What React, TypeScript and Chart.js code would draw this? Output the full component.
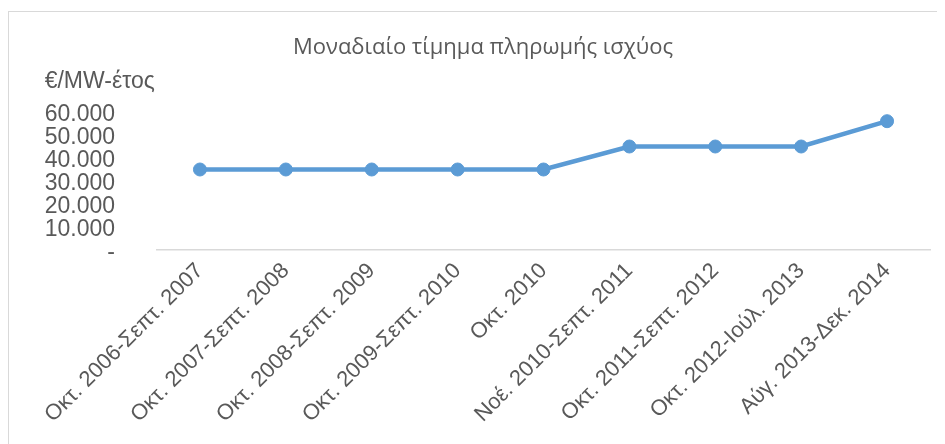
import React, { useEffect, useRef } from "react";
import { Chart, registerables } from "chart.js";

Chart.register(...registerables);

const categories: string[] = [
  "Οκτ. 2006-Σεπτ. 2007",
  "Οκτ. 2007-Σεπτ. 2008",
  "Οκτ. 2008-Σεπτ. 2009",
  "Οκτ. 2009-Σεπτ. 2010",
  "Οκτ. 2010",
  "Νοέ. 2010-Σεπτ. 2011",
  "Οκτ. 2011-Σεπτ. 2012",
  "Οκτ. 2012-Ιούλ. 2013",
  "Αύγ. 2013-Δεκ. 2014",
];
const values: number[] = [35000, 35000, 35000, 35000, 35000, 45000, 45000, 45000, 56000];
const chartTitle = "Μοναδιαίο τίμημα πληρωμής ισχύος";
const unitLabel = "€/MW-έτος";
const yMin = 0;
const yMax = 60000;
const yStep = 10000;

const FONT = "'Liberation Sans', Arial, sans-serif";
const TITLE_FONT = "'Open Sans', 'Liberation Sans', sans-serif";
const TEXT = "#595959";
const LINE = "#5b9bd5";
const AXIS = "#d9d9d9";
const Y_TICK_PAD = 42;
const Y_FONT_SIZE = 23;

function fmt(v: number): string {
  if (v === 0) return "-";
  return String(Math.round(v)).replace(/\B(?=(\d{3})+(?!\d))/g, ".");
}

const unitPlugin = {
  id: "unitLabel",
  afterDraw(chart: any) {
    const ctx = chart.ctx;
    const ys = chart.scales.y;
    ctx.save();
    ctx.font = `${Y_FONT_SIZE}px ${FONT}`;
    let maxW = 0;
    for (const t of ys.ticks) {
      const w = ctx.measureText(fmt(t.value)).width;
      if (w > maxW) maxW = w;
    }
    ctx.fillStyle = TEXT;
    ctx.textAlign = "left";
    ctx.textBaseline = "middle";
    ctx.fillText(unitLabel, chart.chartArea.left - Y_TICK_PAD - maxW, chart.chartArea.top - 30);
    ctx.restore();
  },
};

export default function App() {
  const ref = useRef<HTMLCanvasElement | null>(null);
  useEffect(() => {
    document.documentElement.style.overflow = "hidden";
    document.body.style.overflow = "hidden";
    const chart = new Chart(ref.current as HTMLCanvasElement, {
      type: "line",
      data: {
        labels: categories,
        datasets: [
          {
            data: values,
            borderColor: LINE,
            backgroundColor: LINE,
            borderWidth: 4.5,
            pointRadius: 6.5,
            pointBorderWidth: 1,
            pointBackgroundColor: LINE,
            pointBorderColor: LINE,
            tension: 0,
          },
        ],
      },
      options: {
        animation: false,
        responsive: false,
        maintainAspectRatio: false,
        layout: { padding: 0 },
        plugins: {
          legend: { display: false },
          tooltip: { enabled: false },
          title: {
            display: true,
            text: chartTitle,
            color: TEXT,
            font: { family: TITLE_FONT, size: 22, weight: "normal", lineHeight: 1.2 },
            padding: { top: 23, bottom: 50.6 },
          },
        },
        scales: {
          x: {
            type: "category",
            offset: true,
            grid: { display: false, drawTicks: false },
            border: { display: true, color: AXIS, width: 1.5 },
            ticks: {
              color: TEXT,
              font: { family: FONT, size: 22 },
              minRotation: 45,
              maxRotation: 45,
              autoSkip: false,
              padding: 8,
            },
            afterFit(s: any) {
              s.height = 200;
            },
          },
          y: {
            type: "linear",
            position: "left",
            min: yMin,
            max: yMax,
            grid: { display: false, drawTicks: false },
            border: { display: false },
            ticks: {
              stepSize: yStep,
              autoSkip: false,
              color: TEXT,
              font: { family: FONT, size: Y_FONT_SIZE, lineHeight: 1 },
              padding: Y_TICK_PAD,
              labelOffset: 3,
              callback: (v: any) => fmt(Number(v)),
            },
            afterFit(s: any) {
              s.width = 148;
            },
          },
          yRight: {
            type: "linear",
            position: "right",
            display: true,
            grid: { display: false, drawTicks: false },
            border: { display: false },
            ticks: { display: false },
            afterFit(s: any) {
              s.width = 27;
            },
          },
        },
      } as any,
      plugins: [unitPlugin],
    });
    return () => chart.destroy();
  }, []);

  return (
    <div
      style={{
        position: "relative",
        top: 3,
        width: 950,
        height: 440,
        border: "1px solid #d9d9d9",
        background: "#fff",
      }}
    >
      <canvas ref={ref} width={948} height={438} style={{ display: "block" }} />
    </div>
  );
}
